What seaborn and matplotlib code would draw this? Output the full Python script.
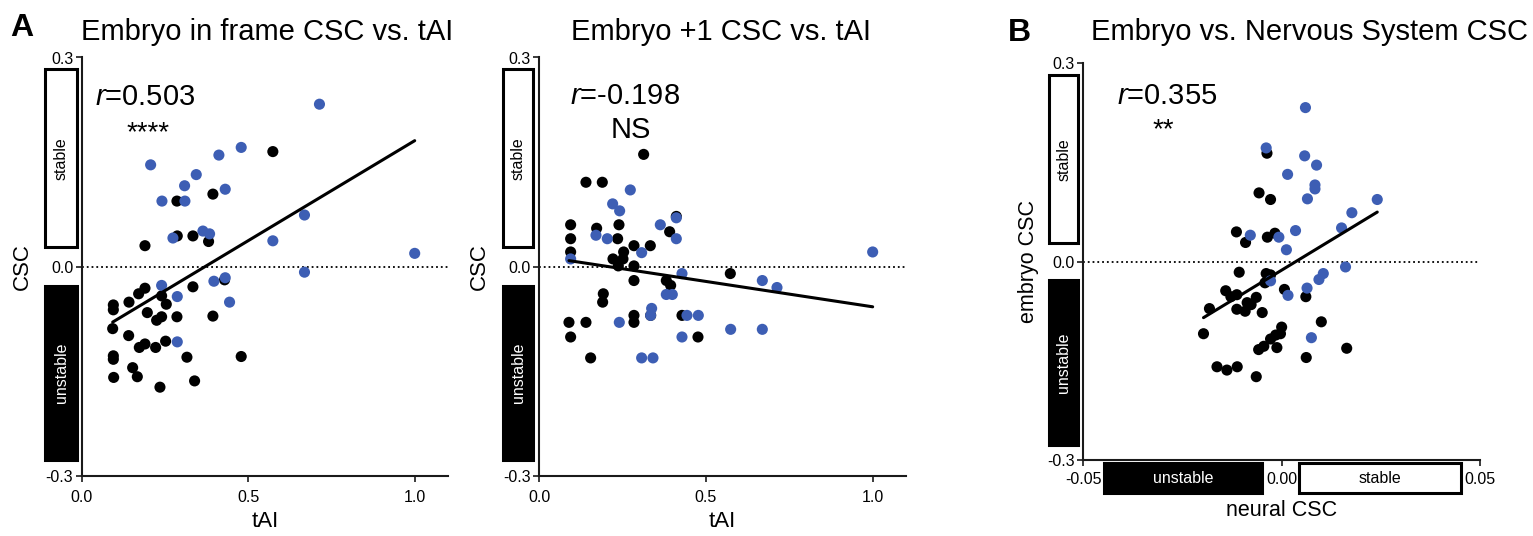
import pandas as pd
import matplotlib
matplotlib.use("Agg")
import matplotlib.pyplot as plt
import matplotlib.transforms as mtransforms
from matplotlib.patches import Rectangle
import seaborn as sns

# ---- Panel A (left): embryo in-frame CSC vs tAI ----
inframe_blue_tai = [0.714, 0.207, 0.479, 0.412, 0.344, 0.309, 0.431, 0.241, 0.310, 0.669, 0.364,
                    0.384, 0.274, 0.574, 1.000, 0.669, 0.431, 0.397, 0.240, 0.287, 0.444, 0.287]
inframe_blue_csc = [0.233, 0.146, 0.171, 0.160, 0.132, 0.116, 0.111, 0.094, 0.094, 0.074, 0.051,
                    0.047, 0.041, 0.037, 0.019, -0.008, -0.016, -0.021, -0.027, -0.043, -0.051, -0.108]
inframe_black_tai = [0.574, 0.394, 0.286, 0.287, 0.334, 0.381, 0.190, 0.429, 0.334, 0.190, 0.171, 0.240,
                     0.142, 0.095, 0.254, 0.095, 0.197, 0.240, 0.225, 0.286, 0.394, 0.093, 0.141, 0.190,
                     0.173, 0.222, 0.252, 0.095, 0.095, 0.316, 0.479, 0.153, 0.096, 0.167, 0.339, 0.235]
inframe_black_csc = [0.165, 0.104, 0.094, 0.044, 0.044, 0.036, 0.030, -0.019, -0.029, -0.031, -0.039, -0.042,
                     -0.051, -0.055, -0.054, -0.062, -0.066, -0.072, -0.077, -0.072, -0.071, -0.089, -0.099, -0.111,
                     -0.116, -0.116, -0.107, -0.128, -0.133, -0.130, -0.129, -0.145, -0.159, -0.158, -0.164, -0.173]

# ---- Panel A (middle): embryo +1 frame CSC vs tAI ----
plus1_blue_tai = [0.273, 0.220, 0.241, 0.411, 0.363, 0.170, 0.204, 0.411, 0.307, 0.094, 1.000, 0.428, 0.669,
                  0.713, 0.381, 0.399, 0.337, 0.334, 0.443, 0.477, 0.240, 0.574, 0.669, 0.428, 0.307, 0.341]
plus1_blue_csc = [0.110, 0.090, 0.080, 0.070, 0.060, 0.045, 0.040, 0.040, 0.020, 0.011, 0.021, -0.010, -0.020,
                  -0.030, -0.040, -0.040, -0.060, -0.070, -0.070, -0.070, -0.080, -0.090, -0.090, -0.101, -0.131, -0.131]
plus1_black_tai = [0.313, 0.140, 0.189, 0.094, 0.094, 0.094, 0.172, 0.239, 0.235, 0.391, 0.284, 0.333, 0.253,
                   0.221, 0.251, 0.237, 0.284, 0.573, 0.284, 0.381, 0.394, 0.192, 0.190, 0.284, 0.284, 0.334,
                   0.428, 0.089, 0.140, 0.094, 0.476, 0.154, 0.411]
plus1_black_csc = [0.161, 0.121, 0.121, 0.060, 0.040, 0.021, 0.055, 0.060, 0.040, 0.050, 0.030, 0.030, 0.021,
                   0.011, 0.011, 0.001, 0.001, -0.010, -0.020, -0.020, -0.027, -0.039, -0.051, -0.070, -0.080, -0.070,
                   -0.070, -0.080, -0.080, -0.101, -0.101, -0.131, 0.072]

# ---- Panel B: embryo CSC vs neural CSC ----
neural_blue_x = [0.0060, -0.0039, 0.0058, 0.0088, 0.0015, 0.0084, 0.0084, 0.0065, 0.0241, 0.0177, 0.0151,
                 0.0035, -0.0079, -0.0007, 0.0012, 0.0161, 0.0105, 0.0094, -0.0028, 0.0064, 0.0016, 0.0075]
neural_blue_y = [0.233, 0.172, 0.160, 0.146, 0.132, 0.116, 0.110, 0.095, 0.094, 0.074, 0.051,
                 0.047, 0.040, 0.037, 0.018, -0.008, -0.018, -0.027, -0.029, -0.040, -0.051, -0.115]
neural_black_x = [-0.0037, -0.0057, -0.0028, -0.0114, -0.0091, -0.0036, -0.0017, -0.0107, -0.0039, -0.0028,
                  -0.0042, 0.0007, -0.0141, -0.0113, -0.0128, -0.0064, 0.0061, -0.0087, -0.0077, -0.0182,
                  -0.0113, -0.0092, -0.0049, 0.0100, 0.0000, -0.0003, -0.0197, -0.0015, -0.0028, -0.0045,
                  -0.0058, -0.0012, 0.0164, 0.0062, -0.0163, -0.0138, -0.0112, -0.0064]
neural_black_y = [0.164, 0.104, 0.094, 0.045, 0.029, 0.037, 0.043, -0.016, -0.018, -0.020,
                  -0.032, -0.042, -0.044, -0.050, -0.053, -0.054, -0.053, -0.062, -0.065, -0.071,
                  -0.072, -0.075, -0.077, -0.091, -0.099, -0.109, -0.109, -0.111, -0.117, -0.128,
                  -0.133, -0.130, -0.131, -0.145, -0.159, -0.164, -0.159, -0.174]

BLUE = "#3D5EB4"
palette = {"black": "black", "blue": BLUE}

sns.set_theme(style="ticks")
plt.rcParams["font.family"] = ["Liberation Sans", "DejaVu Sans"]
plt.rcParams["mathtext.fontset"] = "custom"
plt.rcParams["mathtext.rm"] = "Liberation Sans"
plt.rcParams["mathtext.it"] = "Liberation Sans:italic"
for key in ["text.color", "axes.labelcolor", "xtick.color", "ytick.color", "axes.edgecolor"]:
    plt.rcParams[key] = "black"


def make_df(bx, by, ux, uy):
    black = pd.DataFrame({"x": bx, "y": by, "group": "black"})
    blue = pd.DataFrame({"x": ux, "y": uy, "group": "blue"})
    return pd.concat([black, blue], ignore_index=True)


def style_axis(ax):
    for side in ["top", "right"]:
        ax.spines[side].set_visible(False)
    for side in ["left", "bottom"]:
        ax.spines[side].set_linewidth(1.5)
        ax.spines[side].set_color("#1a1a1a")
    ax.tick_params(direction="out", length=4, width=1.2, labelsize=11.5, colors="#1a1a1a",
                   labelcolor="black")
    ax.tick_params(axis="y", pad=2)
    ax.tick_params(axis="x", pad=6)
    ax.axhline(0, ls=":", lw=1.3, color="black", zorder=1)


def side_boxes(ax, x0, x1):
    # stable / unstable boxes left of the y axis (axes-x, data-y)
    tr = mtransforms.blended_transform_factory(ax.transAxes, ax.transData)
    ax.add_patch(Rectangle((x0, 0.028), x1 - x0, 0.255, transform=tr, clip_on=False,
                           facecolor="white", edgecolor="black", lw=2.2))
    ax.add_patch(Rectangle((x0, -0.278), x1 - x0, 0.250, transform=tr, clip_on=False,
                           facecolor="black", edgecolor="black", lw=2.2))
    ax.text((x0 + x1) / 2, 0.155, "stable", transform=tr, rotation=90, ha="center", va="center",
            fontsize=11.5, color="black")
    ax.text((x0 + x1) / 2, -0.153, "unstable", transform=tr, rotation=90, ha="center", va="center",
            fontsize=11.5, color="white")


def scatter_panel(ax, df):
    sns.scatterplot(data=df, x="x", y="y", hue="group", palette=palette, s=64, linewidth=0,
                    legend=False, ax=ax, zorder=3)
    sns.regplot(data=df, x="x", y="y", scatter=False, ci=None, color="black",
                line_kws={"lw": 2.2, "zorder": 4}, ax=ax)


fig = plt.figure(figsize=(15.33, 5.36), dpi=100)
W, H = 1533, 536

ax1 = fig.add_axes([81.7 / W, 1 - 475.7 / H, 366.3 / W, 418.2 / H])
ax2 = fig.add_axes([539.3 / W, 1 - 475.7 / H, 366.7 / W, 418.2 / H])
ax3 = fig.add_axes([1083.3 / W, 1 - 460 / H, 396.7 / W, 396.7 / H])

df1 = make_df(inframe_black_tai, inframe_black_csc, inframe_blue_tai, inframe_blue_csc)
df2 = make_df(plus1_black_tai, plus1_black_csc, plus1_blue_tai, plus1_blue_csc)
df3 = make_df(neural_black_x, neural_black_y, neural_blue_x, neural_blue_y)

for ax, df in [(ax1, df1), (ax2, df2), (ax3, df3)]:
    scatter_panel(ax, df)
    style_axis(ax)
    ax.set_ylim(-0.3, 0.3)
    ax.set_yticks([-0.3, 0.0, 0.3])
    ax.set_yticklabels(["-0.3", "0.0", "0.3"])

for ax in (ax1, ax2):
    ax.set_xlim(0, 1.1)
    ax.set_xticks([0.0, 0.5, 1.0])
    ax.set_xticklabels(["0.0", "0.5", "1.0"])
    ax.set_xlabel("tAI", fontsize=16)
    ax.set_ylabel("CSC", fontsize=16)
    ax.xaxis.set_label_coords(0.5, -0.084)
ax1.yaxis.set_label_coords(-0.133, 0.5)
ax2.yaxis.set_label_coords(-0.134, 0.5)

ax3.set_xlim(-0.05, 0.05)
ax3.set_xticks([-0.05, 0.0, 0.05])
ax3.set_xticklabels(["-0.05", "0.00", "0.05"])
ax3.tick_params(axis="x", pad=5)
ax3.set_xlabel("neural CSC", fontsize=15.5)
ax3.set_ylabel("embryo CSC", fontsize=15.5)
ax3.xaxis.set_label_coords(0.5, -0.101)
ax3.yaxis.set_label_coords(-0.112, 0.5)

side_boxes(ax1, -0.100, -0.013)
side_boxes(ax2, -0.098, -0.018)
side_boxes(ax3, -0.086, -0.013)

# horizontal stable / unstable boxes under panel B (data-x, axes-y)
trb = mtransforms.blended_transform_factory(ax3.transData, ax3.transAxes)
ax3.add_patch(Rectangle((-0.0447, -0.084), 0.0398, 0.0757, transform=trb, clip_on=False,
                        facecolor="black", edgecolor="black", lw=2.2))
ax3.add_patch(Rectangle((0.0043, -0.084), 0.0409, 0.0757, transform=trb, clip_on=False,
                        facecolor="white", edgecolor="black", lw=2.2))
ax3.text(-0.0248, -0.046, "unstable", transform=trb, ha="center", va="center", fontsize=11.5, color="white")
ax3.text(0.02475, -0.046, "stable", transform=trb, ha="center", va="center", fontsize=11.5, color="black")

# correlation annotations
ax1.text(0.04, 0.232, "$r$=0.503", fontsize=21)
ax1.text(0.20, 0.182, "****", fontsize=20, ha="center")
ax2.text(0.092, 0.234, "$r$=-0.198", fontsize=21)
ax2.text(0.274, 0.185, "NS", fontsize=21, ha="center")
ax3.text(-0.0415, 0.238, "$r$=0.355", fontsize=21)
ax3.text(-0.0299, 0.188, "**", fontsize=20, ha="center")

# titles and panel letters
fig.text(267 / W, 1 - 40 / H, "Embryo in frame CSC vs. tAI", fontsize=21, ha="center", va="baseline")
fig.text(721 / W, 1 - 40 / H, "Embryo +1 CSC vs. tAI", fontsize=21, ha="center", va="baseline")
fig.text(1309.7 / W, 1 - 40.5 / H, "Embryo vs. Nervous System CSC", fontsize=21, ha="center", va="baseline")
fig.text(10 / W, 1 - 36 / H, "A", fontsize=23, fontweight="bold", va="baseline")
fig.text(1008 / W, 1 - 41 / H, "B", fontsize=23, fontweight="bold", va="baseline")

fig.savefig("out.png", dpi=100)
plt.close(fig)
